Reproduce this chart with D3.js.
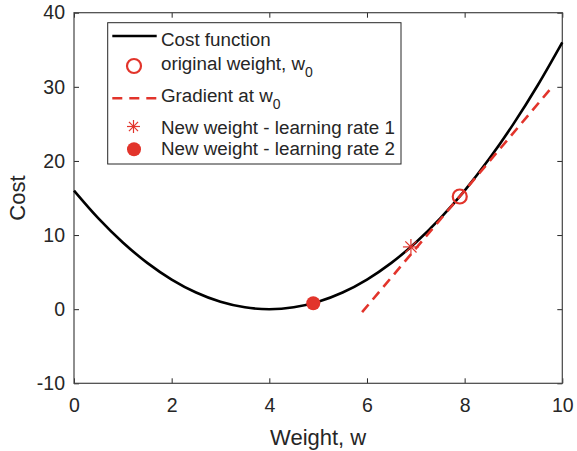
<!DOCTYPE html>
<html>
<head>
<meta charset="utf-8">
<script src="https://cdn.jsdelivr.net/npm/d3@7"></script>
<style>
  body { margin: 0; background: #fff; }
  svg text { font-family: "Liberation Sans", Arial, Helvetica, sans-serif; fill: #262626; }
</style>
</head>
<body>
<div id="chart"></div>
<script>
// cost curve
var weights = [0,0.5,1,1.5,2,2.5,3,3.5,4,4.5,5,5.5,6,6.5,7,7.5,8,8.5,9,9.5,10];
var costs = [16,12.25,9,6.25,4,2.25,1,0.25,0,0.25,1,2.25,4,6.25,9,12.25,16,20.25,25,30.25,36];
// gradient (tangent) line end points
var gradX = [5.9, 9.82];
var gradY = [-0.4, 30.2];
// markers
var origW = [7.9], origCost = [15.2];
var lr1W = [6.9], lr1Cost = [8.4];
var lr2W = [4.9], lr2Cost = [0.8];
var xTicks = [0,2,4,6,8,10];
var yTicks = [-10,0,10,20,30,40];
var legendLabels = ["Cost function", "original weight, w", "Gradient at w", "New weight - learning rate 1", "New weight - learning rate 2"];

var red = "#e2342b", axisCol = "#262626";
var margin = { top: 12.7, left: 74 },
    width = 488.3,
    height = 370.6;

var svg = d3.select("#chart").append("svg")
    .attr("width", 577).attr("height", 451);
var g = svg.append("g")
    .attr("transform", "translate(" + margin.left + "," + margin.top + ")");

var x = d3.scaleLinear().domain([0, 10]).range([0, width]);
var y = d3.scaleLinear().domain([-10, 40]).range([height, 0]);
var plain = function (d) { return String(d); };

// axes with inward ticks
var xAxis = g.append("g").attr("transform", "translate(0," + height + ")")
    .call(d3.axisBottom(x).tickValues(xTicks).tickFormat(plain).tickSize(-5).tickPadding(15));
var yAxis = g.append("g")
    .call(d3.axisLeft(y).tickValues(yTicks).tickFormat(plain).tickSize(-5).tickPadding(9));
g.append("g").call(d3.axisTop(x).tickValues(xTicks).tickSize(-5).tickFormat(""));
g.append("g").attr("transform", "translate(" + width + ",0)")
    .call(d3.axisRight(y).tickValues(yTicks).tickSize(-5).tickFormat(""));
g.selectAll(".domain").remove();
g.selectAll(".tick line").attr("stroke", axisCol).attr("stroke-width", 1);
g.selectAll(".tick text").style("font-size", "19.5px").attr("fill", axisCol);
g.append("rect").attr("width", width).attr("height", height)
    .attr("fill", "none").attr("stroke", "#444").attr("stroke-width", 1.2);

// cost curve
var curveData = weights.map(function (w, i) { return [w, costs[i]]; });
g.append("path").datum(curveData)
    .attr("fill", "none").attr("stroke", "#000").attr("stroke-width", 2.6)
    .attr("d", d3.line().x(function (d) { return x(d[0]); }).y(function (d) { return y(d[1]); })
        .curve(d3.curveCatmullRom));

// gradient line
var gradData = gradX.map(function (w, i) { return [w, gradY[i]]; });
g.append("path").datum(gradData)
    .attr("fill", "none").attr("stroke", red).attr("stroke-width", 2.6)
    .attr("stroke-dasharray", "10,6.5")
    .attr("d", d3.line().x(function (d) { return x(d[0]); }).y(function (d) { return y(d[1]); }));

function star(sel, cx, cy, r) {
    var s = sel.append("g").attr("transform", "translate(" + cx + "," + cy + ")")
        .attr("stroke", red).attr("stroke-width", 1.2);
    [[-r,0,r,0],[0,-r,0,r],[-r*0.7,-r*0.7,r*0.7,r*0.7],[-r*0.7,r*0.7,r*0.7,-r*0.7]].forEach(function (l) {
        s.append("line").attr("x1", l[0]).attr("y1", l[1]).attr("x2", l[2]).attr("y2", l[3]);
    });
}

// markers
g.selectAll(".orig").data(origW).enter().append("circle")
    .attr("cx", function (d) { return x(d); })
    .attr("cy", function (d, i) { return y(origCost[i]); })
    .attr("r", 7).attr("fill", "none").attr("stroke", red).attr("stroke-width", 2.2);
lr1W.forEach(function (d, i) { star(g, x(d), y(lr1Cost[i]), 8); });
g.selectAll(".lr2").data(lr2W).enter().append("circle")
    .attr("cx", function (d) { return x(d); })
    .attr("cy", function (d, i) { return y(lr2Cost[i]); })
    .attr("r", 7).attr("fill", red);

// axis labels
svg.append("text").attr("x", margin.left + width / 2).attr("y", 445)
    .attr("text-anchor", "middle").style("font-size", "22px").text("Weight, w");
svg.append("text").attr("transform", "translate(25," + (margin.top + height / 2) + ") rotate(-90)")
    .attr("text-anchor", "middle").style("font-size", "22px").text("Cost");

// legend
var leg = svg.append("g");
leg.append("rect").attr("x", 107.7).attr("y", 22.7).attr("width", 293.3).attr("height", 141.3)
    .attr("fill", "#fff").attr("stroke", axisCol).attr("stroke-width", 1);
var markY = [36, 66, 98.3, 126.5, 149.3];
var baseY = [46, 70, 101.7, 133.5, 155];
leg.append("line").attr("x1", 112.3).attr("x2", 156.7).attr("y1", markY[0]).attr("y2", markY[0])
    .attr("stroke", "#000").attr("stroke-width", 2.6);
leg.append("circle").attr("cx", 134).attr("cy", markY[1]).attr("r", 7)
    .attr("fill", "none").attr("stroke", red).attr("stroke-width", 2.2);
leg.append("line").attr("x1", 112.3).attr("x2", 156.7).attr("y1", markY[2]).attr("y2", markY[2])
    .attr("stroke", red).attr("stroke-width", 2.6).attr("stroke-dasharray", "10,7");
star(leg, 133.5, markY[3], 6.5);
leg.append("circle").attr("cx", 134).attr("cy", markY[4]).attr("r", 7).attr("fill", red);
legendLabels.forEach(function (t, i) {
    var txt = leg.append("text").attr("x", 161).attr("y", baseY[i]).style("font-size", "18.8px").text(t);
    if (i == 1 || i == 2)
        txt.append("tspan").attr("dy", 7).style("font-size", "14px").text("0");
});
</script>
</body>
</html>
